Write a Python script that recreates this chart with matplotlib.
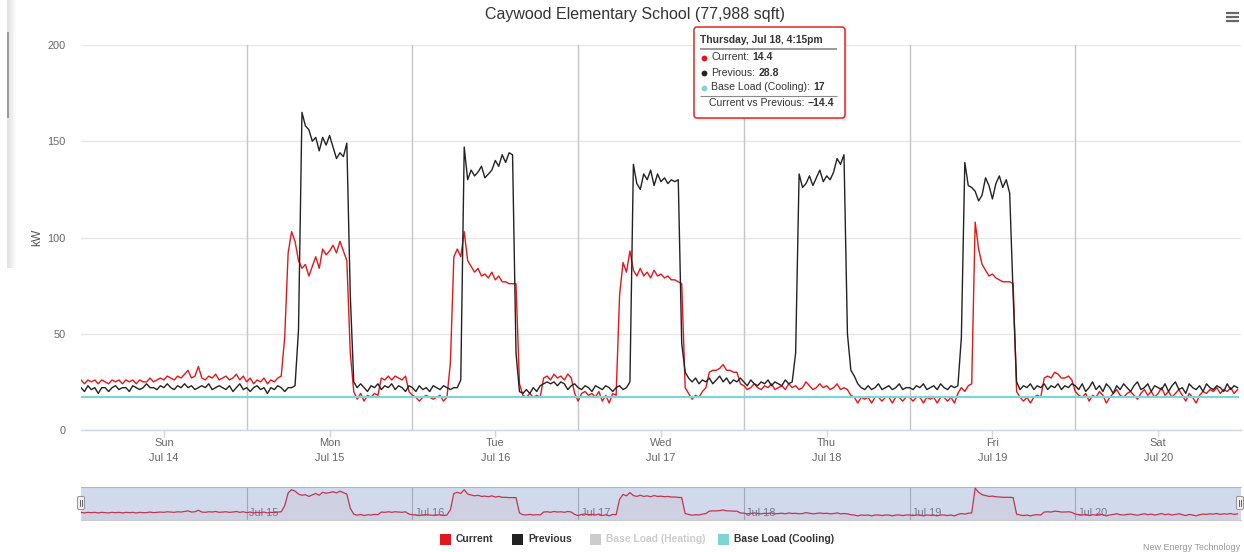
import numpy as np
import matplotlib
matplotlib.use("Agg")
import matplotlib.pyplot as plt
from matplotlib.patches import FancyBboxPatch, Rectangle

plt.rcParams['font.family'] = ['Liberation Sans', 'DejaVu Sans']

W, H, DPI = 1244, 552, 100

# ---------------- data ----------------
title = "Caywood Elementary School (77,988 sqft)"
y_label = "kW"
day_names = ["Sun", "Mon", "Tue", "Wed", "Thu", "Fri", "Sat"]
day_dates = ["Jul 14", "Jul 15", "Jul 16", "Jul 17", "Jul 18", "Jul 19", "Jul 20"]
nav_labels = ["Jul 15", "Jul 16", "Jul 17", "Jul 18", "Jul 19", "Jul 20"]
y_ticks = [0, 50, 100, 150, 200]
series_names = ["Current", "Previous", "Base Load (Heating)", "Base Load (Cooling)"]
step_minutes = 30
base_load_cooling = 17

tooltip_time = "Thursday, Jul 18, 4:15pm"
tooltip_current = 14.4
tooltip_previous = 28.8
tooltip_cooling = 17

sun_cur = [26,24,26,25,26,24,26,25,24,26,25,26,24,26,25,26,24,26,25,25,27,25,
           26,27,26,28,27,26,28,27,29,31,27,28,33,27,
           26,28,27,29,26,27,28,26,27,29,26,28]
sun_prev = [22,20,23,21,22,19,22,22,20,22,23,21,22,22,20,23,22,21,22,24,
            22,22,21,23,22,24,22,21,23,22,24,22,23,21,22,23,22,24,21,22,
            23,22,21,23,20,22,24,21]
mon_cur = [25,27,24,26,25,27,24,26,25,27,
           28,48,92,103,98,88,84,86,80,85,90,84,94,91,93,96,92,98,93,88,
           40,20,16,19,15,18,17,19,18,27,26,28,26,28,27,26,28,20]
mon_prev = [22,20,22,23,21,22,19,22,21,23,22,20,22,22,
            23,52,165,158,156,150,152,145,152,148,153,147,141,144,142,149,
            70,25,22,24,22,20,23,22,24,21,23,22,24,21,23,22,20,23]
tue_cur = [18,17,15,17,18,17,16,17,18,15,17,
           35,90,94,90,103,88,85,82,84,80,81,79,82,78,80,77,77,76,76,76,
           24,18,17,19,17,18,17,27,28,26,29,27,28,26,29,27,19]
tue_prev = [22,20,23,21,22,20,23,22,21,23,22,21,22,22,
            26,147,130,135,132,134,137,131,133,135,140,137,143,139,144,143,
            40,20,19,21,19,22,20,23,24,25,24,25,23,25,24,21,23,24]
wed_cur = [15,19,20,18,19,17,20,15,18,14,19,18,
           70,87,82,93,83,80,84,80,82,79,83,80,81,79,80,78,78,77,76,
           22,19,16,18,17,20,22,30,31,31,32,34,31,31,30,30,24]
wed_prev = [22,21,23,22,20,23,22,21,23,22,20,22,23,21,22,
            25,138,128,125,133,130,135,127,133,129,131,128,130,129,130,
            45,30,27,25,27,24,26,25,27,24,26,28,25,27,24,26,25,27]
thu_cur = [23,21,22,24,22,21,23,22,24,21,22,23,21,24,22,23,21,22,25,23,
           21,22,24,22,23,21,22,24,21,22,
           21,18,17,14,17,16,17,14,17,17,15,17,17,14,17,17,15,17]
thu_prev = [25,23,26,24,23,25,24,26,23,25,24,23,26,24,25,
            40,133,126,128,132,127,131,135,129,132,130,134,141,138,143,
            50,31,28,24,22,21,23,21,22,24,21,22,23,21,22,24,21,22]
fri_cur = [17,15,17,17,14,17,16,17,14,17,17,15,17,14,
           19,22,20,23,24,108,94,86,83,80,81,79,78,77,77,77,76,
           20,17,15,17,14,17,18,17,27,28,27,30,29,27,27,28,26]
fri_prev = [22,21,23,22,24,21,22,23,21,24,22,21,23,22,
            23,48,139,127,126,124,119,122,131,127,120,128,132,126,130,123,
            70,25,21,23,22,24,21,23,22,24,21,23,22,24,21,23,22,24]
sat_cur = [20,18,17,19,15,18,17,20,18,14,17,19,21,18,17,19,20,18,16,19,
           21,18,20,17,19,22,18,20,17,19,21,18,15,19,17,14,18,20,19,21,
           20,22,19,21,20,22,19,21]
sat_prev = [23,21,24,20,22,25,21,23,20,24,22,19,23,21,24,22,20,23,25,21,
            22,24,20,23,22,21,24,20,23,25,21,22,19,24,22,21,23,20,24,22,
            21,23,22,20,24,21,23,22]

current = np.array(sun_cur + mon_cur + tue_cur + wed_cur + thu_cur + fri_cur + sat_cur, float)
previous = np.array(sun_prev + mon_prev + tue_prev + wed_prev + thu_prev + fri_prev + sat_prev, float)
t = np.arange(len(current)) * step_minutes / (60 * 24)   # days since Jul 14 00:00
cooling = np.full(len(current), base_load_cooling, float)
n_days = len(day_names)

# ---------------- styles ----------------
C_CUR = '#e3161d'
C_PREV = '#222222'
C_HEAT = '#cccccc'
C_COOL = '#7dd6d3'
TXT = '#333333'
AX_TXT = '#666666'
PT = 0.72  # points per pixel at 100 dpi

fig = plt.figure(figsize=(W / DPI, H / DPI), dpi=DPI)
fig.patch.set_facecolor('white')

# ---------------- main axes ----------------
ax = fig.add_axes([81 / W, 1 - 430 / H, 1160 / W, 385 / H])
ax.set_xlim(0, n_days)
ax.set_ylim(y_ticks[0], y_ticks[-1])
for s in ['top', 'right', 'left']:
    ax.spines[s].set_visible(False)
ax.spines['bottom'].set_color('#ccd6eb')
ax.spines['bottom'].set_linewidth(1.0)
ax.set_yticks(y_ticks)
ax.set_yticklabels([str(v) for v in y_ticks])
ax.tick_params(axis='y', length=0, pad=11, labelsize=11 * PT, labelcolor=AX_TXT)
ax.yaxis.grid(True, color='#e6e6e6', lw=1.0)
ax.set_axisbelow(True)
ax.set_xticks(np.arange(n_days) + 0.5)
ax.set_xticklabels([f"{d}\n{m}" for d, m in zip(day_names, day_dates)], linespacing=1.6)
ax.tick_params(axis='x', length=7 * PT, width=1.0, color='#ccd6eb', pad=1.0,
               labelsize=11 * PT, labelcolor=AX_TXT)
for d in range(1, n_days):
    ax.axvline(d, color='#c6c6c6', lw=1.0, zorder=1)

ax.plot(t, current, color=C_CUR, lw=1.0, zorder=3)
ax.plot(t, previous, color=C_PREV, lw=1.0, zorder=4)
ax.plot(t, cooling, color=C_COOL, lw=1.6, zorder=5)

# ---------------- navigator ----------------
nav = fig.add_axes([81 / W, 1 - 520 / H, 1160 / W, 33 / H])
nav.set_xlim(0, n_days)
nav.set_ylim(0, 112)
nav.set_xticks([]); nav.set_yticks([])
for s in ['left', 'right']:
    nav.spines[s].set_visible(False)
for s in ['top', 'bottom']:
    nav.spines[s].set_color('#cccccc')
    nav.spines[s].set_linewidth(0.8)
for d in range(1, n_days):
    nav.axvline(d, color='#b8b8b8', lw=0.8, zorder=1)
for d, lab in zip(range(1, n_days), nav_labels):
    nav.text(d + 0.015, 0.2, lab, transform=nav.get_xaxis_transform(), ha='left', va='center',
             fontsize=11 * PT, color='#777777', zorder=1)
nav.fill_between(t, current, 0, color=C_CUR, alpha=0.06, lw=0, zorder=2)
nav.plot(t, current, color=C_CUR, lw=0.9, zorder=3)
nav.add_patch(Rectangle((0, 0), n_days, 112, facecolor='#6685c2', alpha=0.3, lw=0, zorder=5))

# ---------------- overlay in pixel coords ----------------
ov = fig.add_axes([0, 0, 1, 1])
ov.set_xlim(0, W); ov.set_ylim(H, 0)
ov.axis('off')
ov.patch.set_alpha(0)

# left-edge page artefact (panel shadow + scrollbar)
grad = np.zeros((2, 10, 4))
grad[..., :3] = 0.45
grad[..., 3] = np.linspace(0.22, 0.0, 10)[None, :]
ov.imshow(grad, extent=(7, 17, 268, 0), aspect='auto', zorder=0)
ov.plot([7.5, 7.5], [32, 118], color='#9a9a9a', lw=1.4, solid_capstyle='butt')

# title
ov.text(635, 15, title, ha='center', va='center', fontsize=16 * PT, color=TXT)
# y label
ov.text(37, 237, y_label, ha='center', va='center', rotation=90, fontsize=12 * PT, color='#555555')
# hamburger menu
for yy in [13, 17, 21]:
    ov.plot([1226, 1239], [yy, yy], color='#666666', lw=1.6, solid_capstyle='butt')

# navigator handles
for hx in [81, 1240]:
    ov.add_patch(FancyBboxPatch((hx - 3.5, 496.5), 7, 13, boxstyle='round,pad=0,rounding_size=1.5',
                                fc='#f2f2f2', ec='#999999', lw=0.8, zorder=6))
    for lx in [hx - 1, hx + 1]:
        ov.plot([lx, lx], [500, 506], color='#444444', lw=0.6, zorder=7)

# legend
legend_items = [(series_names[0], C_CUR, TXT, 440),
                (series_names[1], C_PREV, TXT, 512),
                (series_names[2], C_HEAT, C_HEAT, 590),
                (series_names[3], C_COOL, TXT, 718)]
for name, col, tcol, lx in legend_items:
    ov.add_patch(Rectangle((lx, 533.5), 11, 11, fc=col, ec='none'))
    ov.text(lx + 16, 539.5, name, ha='left', va='center', fontsize=10.3 * PT,
            fontweight='bold', color=tcol)

# credits
ov.text(1240, 547, "New Energy Technology", ha='right', va='center', fontsize=9 * PT, color='#999999')

# tooltip
for i, a in enumerate([0.03, 0.04, 0.05]):
    off = 3 - i
    ov.add_patch(FancyBboxPatch((694 + off, 27 + off), 151, 91, boxstyle='round,pad=0,rounding_size=3',
                                fc='black', ec='none', alpha=a, zorder=8))
ov.add_patch(FancyBboxPatch((694, 27), 151, 91, boxstyle='round,pad=0,rounding_size=3',
                            fc='white', ec='#e0262b', lw=1.1, zorder=9))
ov.text(700, 40, tooltip_time, ha='left', va='center', fontsize=10.3 * PT, fontweight='bold',
        color=TXT, zorder=10)
ov.plot([700, 837], [48.5, 48.5], color='#9a9a9a', lw=1.4, zorder=10, solid_capstyle='butt')
ov.plot([700, 837], [96, 96], color='#8a8a8a', lw=0.8, zorder=10, solid_capstyle='butt')

fig.canvas.draw()
renderer = fig.canvas.get_renderer()


def label_value(x, y, label, value, bullet=None):
    if bullet is not None:
        ov.plot([x - 7.5], [y + 0.5], marker='o', ms=4.2, color=bullet, mec='none', zorder=10)
    tl = ov.text(x, y, label, ha='left', va='center', fontsize=10.5 * PT, color=TXT, zorder=10)
    bb = tl.get_window_extent(renderer=renderer)
    ov.text(bb.x1 + 3.5, y, value, ha='left', va='center', fontsize=10.5 * PT, fontweight='bold',
            color=TXT, zorder=10)


label_value(711, 57.5, f"{series_names[0]}:", f"{tooltip_current:g}", C_CUR)
label_value(711, 72.5, f"{series_names[1]}:", f"{tooltip_previous:g}", C_PREV)
label_value(711, 87.5, f"{series_names[3]}:", f"{tooltip_cooling:g}", C_COOL)
diff = tooltip_current - tooltip_previous
label_value(709, 103.5, "Current vs Previous:", f"{diff:.1f}".replace('-', '\u2212'))

fig.savefig("out.png", dpi=DPI, facecolor='white')
